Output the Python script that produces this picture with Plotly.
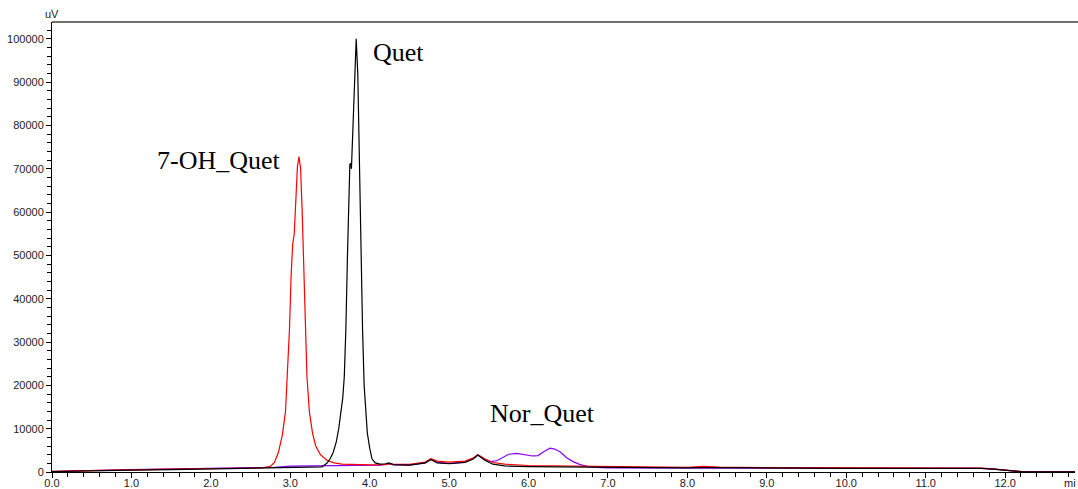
import plotly.graph_objects as go

# --- data (retention time in min, signal in uV) ---
red_t = [0.00, 0.30, 0.60, 1.00, 1.50, 2.00, 2.40, 2.65, 2.75, 2.80, 2.85, 2.90, 2.94, 2.97, 2.99, 3.01,
         3.03, 3.05, 3.07, 3.09, 3.11, 3.13, 3.15, 3.17, 3.19, 3.21, 3.24, 3.28, 3.32, 3.38, 3.46, 3.55,
         3.65, 3.80, 4.00, 4.20, 4.24, 4.30, 4.50, 4.70, 4.77, 4.85, 5.00, 5.20, 5.30, 5.36, 5.45, 5.55,
         5.70, 6.00, 6.50, 7.00, 7.50, 8.00, 8.20, 8.40, 9.00, 10.00, 11.00, 11.70, 11.85, 12.00, 12.20,
         12.50, 12.88]
red_v = [150, 300, 350, 500, 650, 750, 850, 950, 1300, 2200, 4500, 8500, 14000, 24000, 33000, 45000,
         52500, 55000, 63000, 70500, 72800, 70000, 60000, 45000, 33000, 22000, 14000, 9000, 6000, 4000, 2700, 2100,
         1800, 1700, 1650, 1700, 1900, 1750, 1750, 2300, 3100, 2500, 2300, 2500, 3200, 4000, 3000, 2200,
         1800, 1500, 1350, 1200, 1050, 1050, 1300, 1150, 1000, 950, 900, 900, 700, 400, 100,
         50, 50]

black_t = [0.00, 0.30, 0.60, 1.00, 1.50, 2.00, 2.50, 3.00, 3.30, 3.40, 3.46, 3.50, 3.54, 3.58, 3.61, 3.64,
           3.66, 3.68, 3.70, 3.72, 3.74, 3.75, 3.76, 3.77, 3.79, 3.81, 3.83, 3.85, 3.87, 3.89, 3.91, 3.93,
           3.95, 3.97, 4.00, 4.03, 4.07, 4.13, 4.20, 4.24, 4.30, 4.50, 4.70, 4.77, 4.85, 5.00, 5.20, 5.30,
           5.36, 5.45, 5.55, 5.70, 6.00, 6.50, 7.00, 8.00, 8.20, 9.00, 10.00, 11.00, 11.70, 11.85, 12.00,
           12.20, 12.50, 12.88]
black_v = [100, 250, 350, 450, 550, 700, 850, 1000, 1050, 1200, 2000, 3000, 4500, 7000, 10000, 14000,
           17000, 22000, 33000, 50000, 66000, 71000, 71300, 70000, 80000, 93000, 100000, 92000, 72000, 50000, 33000, 20000,
           13000, 9000, 5500, 3000, 2100, 1800, 1900, 2100, 1700, 1600, 2100, 2900, 2100, 1900, 2200, 3000,
           3900, 2700, 1800, 1400, 1250, 1150, 1050, 950, 1000, 900, 850, 850, 850, 650, 350,
           100, 50, 50]

purple_t = [0.00, 0.30, 0.60, 1.00, 1.50, 2.00, 2.50, 2.80, 3.00, 3.20, 3.50, 3.70, 4.00, 4.13, 4.24, 4.30,
            4.50, 4.70, 4.77, 4.85, 5.00, 5.20, 5.30, 5.37, 5.45, 5.52, 5.60, 5.68, 5.75, 5.85, 5.95, 6.05,
            6.12, 6.19, 6.27, 6.33, 6.40, 6.48, 6.56, 6.65, 6.75, 6.85, 7.00, 8.00, 9.00, 10.00, 11.00, 11.70,
            11.85, 12.00, 12.20, 12.50, 12.88]
purple_v = [100, 300, 400, 550, 700, 850, 1000, 1100, 1350, 1400, 1350, 1400, 1500, 1600, 1900, 1650,
            1600, 2100, 2900, 2200, 2000, 2300, 3000, 3900, 3000, 2400, 2600, 3500, 4100, 4300, 4000, 3700,
            3800, 4700, 5500, 5300, 4600, 3300, 2400, 1700, 1250, 1050, 950, 900, 850, 850, 850, 850,
            650, 350, 100, 50, 50]

labels = ["7-OH_Quet", "Quet", "Nor_Quet"]
label_t = [2.10, 4.36, 6.18]
label_v = [72000, 96800, 13400]

fig = go.Figure()
fig.add_trace(go.Scatter(x=purple_t, y=purple_v, mode="lines", line=dict(color="#8800ff", width=1.2), name="Nor_Quet"))
fig.add_trace(go.Scatter(x=red_t, y=red_v, mode="lines", line=dict(color="#ff0000", width=1.2), name="7-OH_Quet"))
fig.add_trace(go.Scatter(x=black_t, y=black_v, mode="lines", line=dict(color="#000000", width=1.2), name="Quet"))

for txt, tx, ty in zip(labels, label_t, label_v):
    fig.add_annotation(x=tx, y=ty, text=txt, showarrow=False, xanchor="center", yanchor="middle",
                       font=dict(family="Liberation Serif", size=26, color="#000000"))

fig.add_annotation(xref="paper", yref="paper", x=0, y=1, text="uV", showarrow=False,
                   xanchor="center", yanchor="bottom", yshift=0,
                   font=dict(family="Liberation Sans", size=11, color="#222222"))
fig.add_annotation(xref="paper", yref="paper", x=1.003, y=0, text="mi", showarrow=False,
                   xanchor="right", yanchor="top", yshift=-3,
                   font=dict(family="Liberation Sans", size=11, color="#222222"))

fig.add_shape(type="line", xref="paper", yref="paper", x0=0, x1=1.01, y0=1, y1=1,
              line=dict(color="#707070", width=2))

axis_font = dict(family="Liberation Sans", size=11, color="#222222")
fig.update_xaxes(range=[0, 12.88], dtick=1, tick0=0, tickformat=".1f", showline=True, linecolor="#000000",
                 linewidth=1, ticks="outside", ticklen=5, tickcolor="#000000", showgrid=False, zeroline=False,
                 tickfont=axis_font, automargin=False, ticklabelstandoff=-4,
                 minor=dict(dtick=0.2, tick0=0, ticks="outside", ticklen=4, tickcolor="#000000", showgrid=False))
fig.update_yaxes(range=[0, 103900], dtick=10000, tick0=0, tickformat="d", showline=True, linecolor="#000000",
                 linewidth=1, ticks="outside", ticklen=5, tickcolor="#000000", showgrid=False, zeroline=False,
                 tickfont=axis_font, automargin=False,
                 minor=dict(dtick=2000, tick0=0, ticks="outside", ticklen=4, tickcolor="#000000", showgrid=False))

fig.update_layout(width=1078, height=489, margin=dict(l=52, r=3, t=22, b=17),
                  paper_bgcolor="white", plot_bgcolor="white", showlegend=False)

fig.write_html("out.html")
